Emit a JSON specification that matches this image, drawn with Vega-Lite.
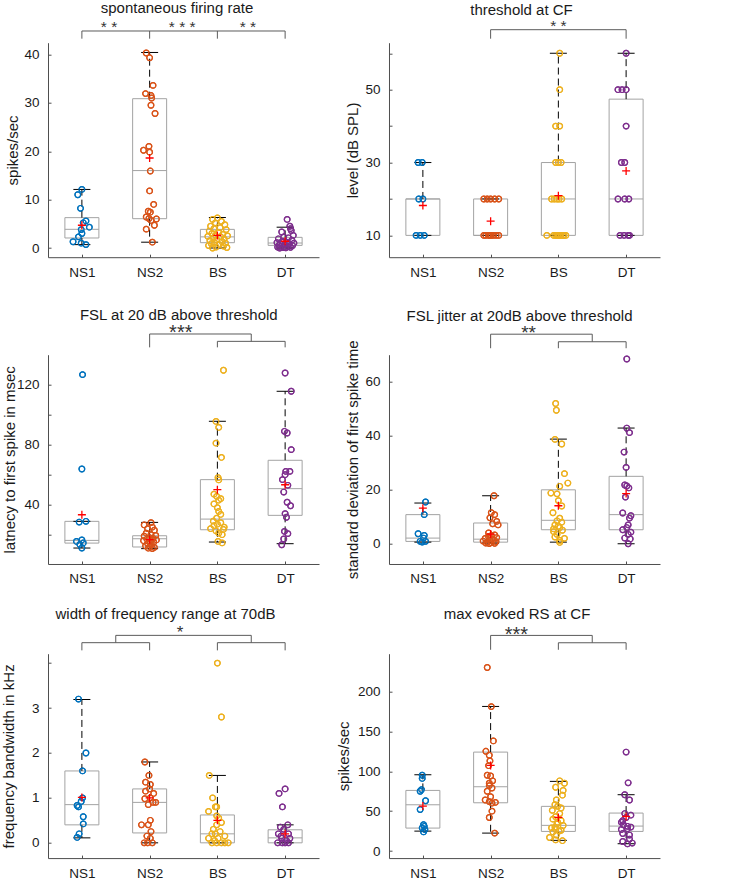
{
"$schema":"https://vega.github.io/schema/vega-lite/v6.json",
"padding":{"left":1.0,"top":0.7,"right":4,"bottom":0},
"config":{"view":{"stroke":null},"font":"Liberation Sans",
"axis":{"grid":false,"domainColor":"#4d4d4d","domainWidth":1,"tickColor":"#4d4d4d","tickSize":-3,"tickWidth":1,"labelFont":"Liberation Sans","labelFontSize":13.5,"labelColor":"#1a1a1a","labelFlush":false,"labelOverlap":false,"labelBound":false,"titleFont":"Liberation Sans","titleFontSize":15,"titleFontWeight":"normal","titleColor":"#1a1a1a"},
"axisX":{"labelPadding":11},
"axisY":{"labelPadding":12,"titleBaseline":"alphabetic","titleAlign":"center","titleAngle":-90},
"title":{"fontSize":15,"fontWeight":"normal","font":"Liberation Sans","color":"#1a1a1a","baseline":"alphabetic","frame":"group","anchor":"middle"}},
"datasets":{
"box":[
{"p":1,"g":1,"q1":2.07,"med":3.86,"q3":6.27,"lo":0.7,"hi":12.1,"mean":4.7},
{"p":1,"g":2,"q1":6.06,"med":16.0,"q3":30.85,"lo":1.2,"hi":40.4,"mean":18.6},
{"p":1,"g":3,"q1":1.1,"med":2.3,"q3":3.85,"lo":0.0,"hi":6.3,"mean":2.6},
{"p":1,"g":4,"q1":0.54,"med":1.03,"q3":2.2,"lo":0.0,"hi":4.3,"mean":1.4},
{"p":2,"g":1,"q1":10,"med":20,"q3":20,"lo":10,"hi":30,"mean":18.2},
{"p":2,"g":2,"q1":10,"med":10,"q3":20,"lo":10,"hi":20,"mean":13.9},
{"p":2,"g":3,"q1":10,"med":20,"q3":30,"lo":10,"hi":60,"mean":20.9},
{"p":2,"g":4,"q1":10,"med":20,"q3":47.4,"lo":10,"hi":60,"mean":27.7},
{"p":3,"g":1,"q1":14.4,"med":16.2,"q3":28.9,"lo":11.1,"hi":28.9,"mean":33.3},
{"p":3,"g":2,"q1":11.8,"med":17.3,"q3":19.3,"lo":10.7,"hi":28.2,"mean":16.7},
{"p":3,"g":3,"q1":23.3,"med":30.4,"q3":56.7,"lo":15.1,"hi":95.6,"mean":50},
{"p":3,"g":4,"q1":32.9,"med":50.7,"q3":69.6,"lo":14,"hi":115.6,"mean":53.3},
{"p":4,"g":1,"q1":0.87,"med":2.1,"q3":10.8,"lo":0.6,"hi":15.1,"mean":13.2},
{"p":4,"g":2,"q1":0.6,"med":1.7,"q3":7.7,"lo":0.25,"hi":17.8,"mean":3.6},
{"p":4,"g":3,"q1":5.2,"med":8.7,"q3":20,"lo":0.6,"hi":38.8,"mean":14.1},
{"p":4,"g":4,"q1":5.2,"med":10.8,"q3":25,"lo":0,"hi":42.9,"mean":18.6},
{"p":5,"g":1,"q1":0.4,"med":0.85,"q3":1.6,"lo":0.11,"hi":3.19,"mean":1.01},
{"p":5,"g":2,"q1":0.22,"med":0.9,"q3":1.2,"lo":0,"hi":1.8,"mean":1.0},
{"p":5,"g":3,"q1":0,"med":0.2,"q3":0.62,"lo":0,"hi":1.5,"mean":0.5},
{"p":5,"g":4,"q1":0,"med":0.11,"q3":0.29,"lo":0,"hi":0.4,"mean":0.2},
{"p":6,"g":1,"q1":28.8,"med":58,"q3":76,"lo":25,"hi":95.6,"mean":56.4},
{"p":6,"g":2,"q1":60.5,"med":80.6,"q3":124,"lo":22.5,"hi":181.2,"mean":107.3},
{"p":6,"g":3,"q1":24.6,"med":32.2,"q3":56,"lo":13.4,"hi":87.3,"mean":42.2},
{"p":6,"g":4,"q1":24.6,"med":31.3,"q3":47.6,"lo":9.2,"hi":70.6,"mean":43.4}
],
"br":[
{"p":1,"x1":1,"x2":4,"y1":44.84,"y2":44.84},{"p":1,"x1":1,"x2":1,"y1":43.25,"y2":44.84},{"p":1,"x1":2,"x2":2,"y1":43.25,"y2":44.84},{"p":1,"x1":3,"x2":3,"y1":43.25,"y2":44.84},{"p":1,"x1":4,"x2":4,"y1":43.25,"y2":44.84},
{"p":2,"x1":2,"x2":4,"y1":66.47,"y2":66.47},{"p":2,"x1":2,"x2":2,"y1":64.0,"y2":66.47},{"p":2,"x1":4,"x2":4,"y1":64.0,"y2":66.47},
{"p":3,"x1":2,"x2":3.5,"y1":153.8,"y2":153.8},{"p":3,"x1":2,"x2":2,"y1":144.9,"y2":153.8},{"p":3,"x1":3.5,"x2":3.5,"y1":148.9,"y2":153.8},{"p":3,"x1":3,"x2":4,"y1":148.9,"y2":148.9},{"p":3,"x1":3,"x2":3,"y1":144.9,"y2":148.9},{"p":3,"x1":4,"x2":4,"y1":144.9,"y2":148.9},
{"p":4,"x1":2,"x2":3.5,"y1":77.7,"y2":77.7},{"p":4,"x1":2,"x2":2,"y1":72.5,"y2":77.7},{"p":4,"x1":3.5,"x2":3.5,"y1":74.9,"y2":77.7},{"p":4,"x1":3,"x2":4,"y1":74.9,"y2":74.9},{"p":4,"x1":3,"x2":3,"y1":72.5,"y2":74.9},{"p":4,"x1":4,"x2":4,"y1":72.5,"y2":74.9},
{"p":5,"x1":1.5,"x2":3.5,"y1":4.618,"y2":4.618},{"p":5,"x1":1.5,"x2":1.5,"y1":4.455,"y2":4.618},{"p":5,"x1":3.5,"x2":3.5,"y1":4.455,"y2":4.618},{"p":5,"x1":1,"x2":2,"y1":4.455,"y2":4.455},{"p":5,"x1":3,"x2":4,"y1":4.455,"y2":4.455},{"p":5,"x1":1,"x2":1,"y1":4.284,"y2":4.455},{"p":5,"x1":2,"x2":2,"y1":4.284,"y2":4.455},{"p":5,"x1":3,"x2":3,"y1":4.284,"y2":4.455},{"p":5,"x1":4,"x2":4,"y1":4.284,"y2":4.455},
{"p":6,"x1":2,"x2":3.5,"y1":270.2,"y2":270.2},{"p":6,"x1":2,"x2":2,"y1":252.2,"y2":270.2},{"p":6,"x1":3.5,"x2":3.5,"y1":261,"y2":270.2},{"p":6,"x1":3,"x2":4,"y1":261,"y2":261},{"p":6,"x1":3,"x2":3,"y1":252.2,"y2":261},{"p":6,"x1":4,"x2":4,"y1":252.2,"y2":261}
],
"st":[
{"p":1,"x":1.4,"y":46.35,"t":"* *"},{"p":1,"x":2.48,"y":46.35,"t":"* * *"},{"p":1,"x":3.45,"y":46.35,"t":"* *"},
{"p":2,"x":3.0,"y":68.58,"t":"* *"},
{"p":3,"x":2.46,"y":158.2,"t":"***"},
{"p":4,"x":2.56,"y":80.1,"t":"**"},
{"p":5,"x":2.45,"y":4.767,"t":"*"},
{"p":6,"x":2.38,"y":278.1,"t":"***"}
],
"pts":[
{"p":1,"c":"NS1","x":1.0,"v":12.1},{"p":1,"c":"NS1","x":0.94,"v":11.0},{"p":1,"c":"NS1","x":0.98,"v":8.2},{"p":1,"c":"NS1","x":1.06,"v":5.6},{"p":1,"c":"NS1","x":1.02,"v":5.2},{"p":1,"c":"NS1","x":1.11,"v":4.3},{"p":1,"c":"NS1","x":0.99,"v":3.8},{"p":1,"c":"NS1","x":1.0,"v":3.0},{"p":1,"c":"NS1","x":0.95,"v":2.3},{"p":1,"c":"NS1","x":0.87,"v":1.3},{"p":1,"c":"NS1","x":0.99,"v":1.0},{"p":1,"c":"NS1","x":1.06,"v":0.7},
{"p":1,"c":"NS2","x":1.95,"v":40.3},{"p":1,"c":"NS2","x":2.0,"v":39.3},{"p":1,"c":"NS2","x":2.05,"v":33.6},{"p":1,"c":"NS2","x":1.94,"v":31.9},{"p":1,"c":"NS2","x":2.02,"v":31.5},{"p":1,"c":"NS2","x":2.03,"v":31.0},{"p":1,"c":"NS2","x":2.02,"v":29.5},{"p":1,"c":"NS2","x":2.08,"v":27.8},{"p":1,"c":"NS2","x":1.99,"v":21.0},{"p":1,"c":"NS2","x":1.91,"v":20.2},{"p":1,"c":"NS2","x":2.0,"v":19.8},{"p":1,"c":"NS2","x":2.01,"v":15.9},{"p":1,"c":"NS2","x":2.0,"v":11.8},{"p":1,"c":"NS2","x":2.06,"v":9.0},{"p":1,"c":"NS2","x":1.98,"v":7.6},{"p":1,"c":"NS2","x":2.01,"v":7.4},{"p":1,"c":"NS2","x":1.95,"v":6.4},{"p":1,"c":"NS2","x":1.99,"v":6.1},{"p":1,"c":"NS2","x":2.1,"v":6.0},{"p":1,"c":"NS2","x":2.02,"v":5.7},{"p":1,"c":"NS2","x":2.07,"v":4.7},{"p":1,"c":"NS2","x":1.95,"v":3.9},{"p":1,"c":"NS2","x":2.04,"v":1.2},
{"p":1,"c":"BS","x":3.0,"v":6.2},{"p":1,"c":"BS","x":2.93,"v":5.9},{"p":1,"c":"BS","x":3.06,"v":5.5},{"p":1,"c":"BS","x":2.97,"v":5.2},{"p":1,"c":"BS","x":3.11,"v":4.8},{"p":1,"c":"BS","x":2.9,"v":4.5},{"p":1,"c":"BS","x":3.04,"v":4.2},{"p":1,"c":"BS","x":2.95,"v":4.0},{"p":1,"c":"BS","x":3.13,"v":3.8},{"p":1,"c":"BS","x":2.88,"v":3.5},{"p":1,"c":"BS","x":3.02,"v":3.2},{"p":1,"c":"BS","x":2.92,"v":3.0},{"p":1,"c":"BS","x":3.08,"v":2.8},{"p":1,"c":"BS","x":2.97,"v":2.6},{"p":1,"c":"BS","x":3.15,"v":2.5},{"p":1,"c":"BS","x":2.86,"v":2.4},{"p":1,"c":"BS","x":3.05,"v":2.3},{"p":1,"c":"BS","x":2.94,"v":2.1},{"p":1,"c":"BS","x":3.1,"v":1.9},{"p":1,"c":"BS","x":2.99,"v":1.7},{"p":1,"c":"BS","x":2.89,"v":1.5},{"p":1,"c":"BS","x":3.07,"v":1.3},{"p":1,"c":"BS","x":2.96,"v":1.1},{"p":1,"c":"BS","x":3.12,"v":1.0},{"p":1,"c":"BS","x":2.91,"v":0.9},{"p":1,"c":"BS","x":3.03,"v":0.7},{"p":1,"c":"BS","x":2.87,"v":0.5},{"p":1,"c":"BS","x":3.09,"v":0.4},{"p":1,"c":"BS","x":2.98,"v":0.2},{"p":1,"c":"BS","x":3.14,"v":0.1},{"p":1,"c":"BS","x":2.93,"v":0.0},
{"p":1,"c":"DT","x":4.03,"v":5.9},{"p":1,"c":"DT","x":4.07,"v":4.5},{"p":1,"c":"DT","x":4.08,"v":4.0},{"p":1,"c":"DT","x":4.09,"v":3.6},{"p":1,"c":"DT","x":3.95,"v":3.3},{"p":1,"c":"DT","x":4.12,"v":2.6},{"p":1,"c":"DT","x":3.98,"v":2.3},{"p":1,"c":"DT","x":4.05,"v":2.1},{"p":1,"c":"DT","x":3.9,"v":1.9},{"p":1,"c":"DT","x":4.1,"v":1.6},{"p":1,"c":"DT","x":3.96,"v":1.4},{"p":1,"c":"DT","x":4.02,"v":1.2},{"p":1,"c":"DT","x":3.88,"v":1.1},{"p":1,"c":"DT","x":4.13,"v":1.0},{"p":1,"c":"DT","x":3.93,"v":0.9},{"p":1,"c":"DT","x":4.06,"v":0.8},{"p":1,"c":"DT","x":3.99,"v":0.7},{"p":1,"c":"DT","x":3.91,"v":0.6},{"p":1,"c":"DT","x":4.11,"v":0.5},{"p":1,"c":"DT","x":3.95,"v":0.4},{"p":1,"c":"DT","x":4.04,"v":0.3},{"p":1,"c":"DT","x":3.89,"v":0.2},{"p":1,"c":"DT","x":4.08,"v":0.15},{"p":1,"c":"DT","x":3.97,"v":0.1},{"p":1,"c":"DT","x":4.01,"v":0.05},{"p":1,"c":"DT","x":3.92,"v":0.0},
{"p":2,"c":"NS1","x":0.93,"v":30},{"p":2,"c":"NS1","x":0.99,"v":30},{"p":2,"c":"NS1","x":0.94,"v":20},{"p":2,"c":"NS1","x":1.0,"v":20},{"p":2,"c":"NS1","x":0.9,"v":10},{"p":2,"c":"NS1","x":0.96,"v":10},{"p":2,"c":"NS1","x":1.02,"v":10},
{"p":2,"c":"NS2","x":1.9,"v":20},{"p":2,"c":"NS2","x":1.95,"v":20},{"p":2,"c":"NS2","x":2.0,"v":20},{"p":2,"c":"NS2","x":2.06,"v":20},{"p":2,"c":"NS2","x":2.12,"v":20},{"p":2,"c":"NS2","x":1.9,"v":10},{"p":2,"c":"NS2","x":1.93,"v":10},{"p":2,"c":"NS2","x":1.97,"v":10},{"p":2,"c":"NS2","x":2.01,"v":10},{"p":2,"c":"NS2","x":2.04,"v":10},{"p":2,"c":"NS2","x":2.08,"v":10},{"p":2,"c":"NS2","x":2.12,"v":10},{"p":2,"c":"NS2","x":1.99,"v":10},
{"p":2,"c":"BS","x":3.02,"v":60},{"p":2,"c":"BS","x":3.02,"v":50},{"p":2,"c":"BS","x":2.96,"v":40},{"p":2,"c":"BS","x":3.02,"v":40},{"p":2,"c":"BS","x":2.96,"v":30},{"p":2,"c":"BS","x":3.0,"v":30},{"p":2,"c":"BS","x":3.04,"v":30},{"p":2,"c":"BS","x":2.9,"v":20},{"p":2,"c":"BS","x":2.94,"v":20},{"p":2,"c":"BS","x":2.98,"v":20},{"p":2,"c":"BS","x":3.01,"v":20},{"p":2,"c":"BS","x":3.05,"v":20},{"p":2,"c":"BS","x":2.83,"v":10},{"p":2,"c":"BS","x":2.93,"v":10},{"p":2,"c":"BS","x":2.96,"v":10},{"p":2,"c":"BS","x":3.0,"v":10},{"p":2,"c":"BS","x":3.04,"v":10},{"p":2,"c":"BS","x":3.07,"v":10},{"p":2,"c":"BS","x":3.11,"v":10},{"p":2,"c":"BS","x":2.98,"v":10},{"p":2,"c":"BS","x":3.02,"v":10},{"p":2,"c":"BS","x":3.08,"v":10},
{"p":2,"c":"DT","x":4.0,"v":60},{"p":2,"c":"DT","x":3.88,"v":50},{"p":2,"c":"DT","x":3.94,"v":50},{"p":2,"c":"DT","x":4.0,"v":50},{"p":2,"c":"DT","x":4.0,"v":40},{"p":2,"c":"DT","x":3.93,"v":30},{"p":2,"c":"DT","x":3.98,"v":30},{"p":2,"c":"DT","x":3.88,"v":20},{"p":2,"c":"DT","x":3.98,"v":20},{"p":2,"c":"DT","x":4.04,"v":20},{"p":2,"c":"DT","x":3.91,"v":10},{"p":2,"c":"DT","x":3.97,"v":10},{"p":2,"c":"DT","x":4.03,"v":10},{"p":2,"c":"DT","x":4.05,"v":10},
{"p":3,"c":"NS1","x":1.01,"v":126.7},{"p":3,"c":"NS1","x":1.0,"v":63.8},{"p":3,"c":"NS1","x":1.06,"v":28.9},{"p":3,"c":"NS1","x":0.96,"v":28.4},{"p":3,"c":"NS1","x":1.0,"v":16.5},{"p":3,"c":"NS1","x":0.92,"v":15.5},{"p":3,"c":"NS1","x":1.02,"v":14.5},{"p":3,"c":"NS1","x":0.97,"v":13.5},{"p":3,"c":"NS1","x":1.0,"v":11.1},
{"p":3,"c":"NS2","x":2.02,"v":28},{"p":3,"c":"NS2","x":1.92,"v":26.5},{"p":3,"c":"NS2","x":2.04,"v":25},{"p":3,"c":"NS2","x":1.97,"v":24},{"p":3,"c":"NS2","x":2.07,"v":23},{"p":3,"c":"NS2","x":1.95,"v":21},{"p":3,"c":"NS2","x":2.02,"v":20},{"p":3,"c":"NS2","x":2.09,"v":19.5},{"p":3,"c":"NS2","x":1.92,"v":19},{"p":3,"c":"NS2","x":2.0,"v":18},{"p":3,"c":"NS2","x":2.05,"v":17.5},{"p":3,"c":"NS2","x":1.96,"v":17},{"p":3,"c":"NS2","x":2.1,"v":16.5},{"p":3,"c":"NS2","x":1.91,"v":16},{"p":3,"c":"NS2","x":2.01,"v":15.5},{"p":3,"c":"NS2","x":2.06,"v":15},{"p":3,"c":"NS2","x":1.97,"v":14},{"p":3,"c":"NS2","x":2.03,"v":13},{"p":3,"c":"NS2","x":1.94,"v":12.5},{"p":3,"c":"NS2","x":2.0,"v":12},{"p":3,"c":"NS2","x":2.07,"v":11.5},{"p":3,"c":"NS2","x":1.98,"v":11},{"p":3,"c":"NS2","x":2.04,"v":10.8},
{"p":3,"c":"BS","x":3.09,"v":129.6},{"p":3,"c":"BS","x":2.98,"v":95.5},{"p":3,"c":"BS","x":3.02,"v":91.5},{"p":3,"c":"BS","x":2.98,"v":81},{"p":3,"c":"BS","x":3.06,"v":71.5},{"p":3,"c":"BS","x":3.01,"v":58},{"p":3,"c":"BS","x":3.02,"v":56.5},{"p":3,"c":"BS","x":2.95,"v":47},{"p":3,"c":"BS","x":2.99,"v":45.5},{"p":3,"c":"BS","x":3.05,"v":44},{"p":3,"c":"BS","x":3.02,"v":43},{"p":3,"c":"BS","x":2.95,"v":40.5},{"p":3,"c":"BS","x":3.0,"v":38},{"p":3,"c":"BS","x":3.02,"v":35.5},{"p":3,"c":"BS","x":3.05,"v":33.5},{"p":3,"c":"BS","x":2.99,"v":31},{"p":3,"c":"BS","x":2.94,"v":29},{"p":3,"c":"BS","x":3.05,"v":28},{"p":3,"c":"BS","x":3.0,"v":27},{"p":3,"c":"BS","x":2.95,"v":26},{"p":3,"c":"BS","x":3.1,"v":25},{"p":3,"c":"BS","x":2.9,"v":24},{"p":3,"c":"BS","x":3.09,"v":23.5},{"p":3,"c":"BS","x":2.98,"v":22.5},{"p":3,"c":"BS","x":3.02,"v":21},{"p":3,"c":"BS","x":3.07,"v":20},{"p":3,"c":"BS","x":3.01,"v":15.5},{"p":3,"c":"BS","x":3.07,"v":14.5},
{"p":3,"c":"DT","x":4.0,"v":127.8},{"p":3,"c":"DT","x":4.09,"v":115.6},{"p":3,"c":"DT","x":3.99,"v":88.9},{"p":3,"c":"DT","x":4.03,"v":87.8},{"p":3,"c":"DT","x":4.09,"v":76.7},{"p":3,"c":"DT","x":4.01,"v":62.2},{"p":3,"c":"DT","x":4.07,"v":62.2},{"p":3,"c":"DT","x":4.0,"v":60},{"p":3,"c":"DT","x":3.96,"v":56.7},{"p":3,"c":"DT","x":4.04,"v":52.9},{"p":3,"c":"DT","x":3.98,"v":48.4},{"p":3,"c":"DT","x":4.03,"v":41.6},{"p":3,"c":"DT","x":4.08,"v":39.3},{"p":3,"c":"DT","x":4.0,"v":34},{"p":3,"c":"DT","x":4.02,"v":31.6},{"p":3,"c":"DT","x":3.99,"v":22.2},{"p":3,"c":"DT","x":4.04,"v":20.7},{"p":3,"c":"DT","x":3.98,"v":17.1},{"p":3,"c":"DT","x":3.95,"v":13.3},
{"p":4,"c":"NS1","x":1.04,"v":15.5},{"p":4,"c":"NS1","x":1.02,"v":10.8},{"p":4,"c":"NS1","x":0.93,"v":3.7},{"p":4,"c":"NS1","x":1.02,"v":3.1},{"p":4,"c":"NS1","x":1.01,"v":2.1},{"p":4,"c":"NS1","x":0.96,"v":0.9},{"p":4,"c":"NS1","x":1.04,"v":0.9},{"p":4,"c":"NS1","x":0.99,"v":0.6},
{"p":4,"c":"NS2","x":2.05,"v":17.8},{"p":4,"c":"NS2","x":2.01,"v":11.5},{"p":4,"c":"NS2","x":2.06,"v":10.8},{"p":4,"c":"NS2","x":1.99,"v":9.6},{"p":4,"c":"NS2","x":2.09,"v":8.3},{"p":4,"c":"NS2","x":2.03,"v":7.4},{"p":4,"c":"NS2","x":2.11,"v":7.0},{"p":4,"c":"NS2","x":1.97,"v":4.0},{"p":4,"c":"NS2","x":2.06,"v":3.3},{"p":4,"c":"NS2","x":2.01,"v":3.0},{"p":4,"c":"NS2","x":1.97,"v":2.7},{"p":4,"c":"NS2","x":2.09,"v":2.3},{"p":4,"c":"NS2","x":1.92,"v":2.0},{"p":4,"c":"NS2","x":2.04,"v":1.5},{"p":4,"c":"NS2","x":1.99,"v":1.2},{"p":4,"c":"NS2","x":1.89,"v":1.0},{"p":4,"c":"NS2","x":2.08,"v":0.8},{"p":4,"c":"NS2","x":1.95,"v":0.6},{"p":4,"c":"NS2","x":2.01,"v":0.4},{"p":4,"c":"NS2","x":1.93,"v":0.3},{"p":4,"c":"NS2","x":2.06,"v":0.2},{"p":4,"c":"NS2","x":1.98,"v":0.1},
{"p":4,"c":"BS","x":2.96,"v":52},{"p":4,"c":"BS","x":2.97,"v":49.5},{"p":4,"c":"BS","x":2.95,"v":38.7},{"p":4,"c":"BS","x":3.05,"v":37},{"p":4,"c":"BS","x":3.09,"v":26},{"p":4,"c":"BS","x":3.14,"v":22.5},{"p":4,"c":"BS","x":3.02,"v":21.3},{"p":4,"c":"BS","x":2.89,"v":18.8},{"p":4,"c":"BS","x":2.98,"v":18.5},{"p":4,"c":"BS","x":3.0,"v":16},{"p":4,"c":"BS","x":3.05,"v":14},{"p":4,"c":"BS","x":2.92,"v":11.5},{"p":4,"c":"BS","x":3.02,"v":9.5},{"p":4,"c":"BS","x":2.98,"v":8.5},{"p":4,"c":"BS","x":3.05,"v":8},{"p":4,"c":"BS","x":2.95,"v":7},{"p":4,"c":"BS","x":3.0,"v":6.5},{"p":4,"c":"BS","x":3.02,"v":6},{"p":4,"c":"BS","x":2.93,"v":5.5},{"p":4,"c":"BS","x":3.06,"v":5},{"p":4,"c":"BS","x":2.93,"v":4.5},{"p":4,"c":"BS","x":2.98,"v":3.5},{"p":4,"c":"BS","x":2.95,"v":2.5},{"p":4,"c":"BS","x":3.09,"v":2},{"p":4,"c":"BS","x":3.02,"v":1.2},{"p":4,"c":"BS","x":3.02,"v":0.5},
{"p":4,"c":"DT","x":4.01,"v":68.5},{"p":4,"c":"DT","x":4.01,"v":42.9},{"p":4,"c":"DT","x":4.05,"v":41.2},{"p":4,"c":"DT","x":3.97,"v":34},{"p":4,"c":"DT","x":4.0,"v":28.3},{"p":4,"c":"DT","x":3.98,"v":21.8},{"p":4,"c":"DT","x":4.01,"v":21.4},{"p":4,"c":"DT","x":4.04,"v":20.7},{"p":4,"c":"DT","x":3.99,"v":17.3},{"p":4,"c":"DT","x":3.95,"v":11.4},{"p":4,"c":"DT","x":4.07,"v":10.4},{"p":4,"c":"DT","x":4.05,"v":9.5},{"p":4,"c":"DT","x":4.03,"v":7.0},{"p":4,"c":"DT","x":4.01,"v":6.0},{"p":4,"c":"DT","x":3.95,"v":5.2},{"p":4,"c":"DT","x":4.07,"v":4.3},{"p":4,"c":"DT","x":4.03,"v":3.5},{"p":4,"c":"DT","x":3.98,"v":2.1},{"p":4,"c":"DT","x":4.06,"v":1.8},{"p":4,"c":"DT","x":4.03,"v":0.0},
{"p":5,"c":"NS1","x":0.95,"v":3.2},{"p":5,"c":"NS1","x":1.06,"v":2.0},{"p":5,"c":"NS1","x":1.01,"v":1.6},{"p":5,"c":"NS1","x":1.01,"v":1.0},{"p":5,"c":"NS1","x":0.99,"v":0.92},{"p":5,"c":"NS1","x":0.93,"v":0.83},{"p":5,"c":"NS1","x":0.95,"v":0.8},{"p":5,"c":"NS1","x":1.02,"v":0.58},{"p":5,"c":"NS1","x":1.02,"v":0.42},{"p":5,"c":"NS1","x":0.96,"v":0.2},{"p":5,"c":"NS1","x":0.93,"v":0.12},
{"p":5,"c":"NS2","x":1.93,"v":1.8},{"p":5,"c":"NS2","x":1.99,"v":1.5},{"p":5,"c":"NS2","x":1.94,"v":1.35},{"p":5,"c":"NS2","x":2.01,"v":1.3},{"p":5,"c":"NS2","x":2.0,"v":1.2},{"p":5,"c":"NS2","x":1.94,"v":1.15},{"p":5,"c":"NS2","x":2.06,"v":1.1},{"p":5,"c":"NS2","x":2.01,"v":1.0},{"p":5,"c":"NS2","x":1.93,"v":0.98},{"p":5,"c":"NS2","x":2.05,"v":0.9},{"p":5,"c":"NS2","x":2.09,"v":0.9},{"p":5,"c":"NS2","x":1.98,"v":0.85},{"p":5,"c":"NS2","x":2.01,"v":0.5},{"p":5,"c":"NS2","x":1.88,"v":0.4},{"p":5,"c":"NS2","x":1.98,"v":0.4},{"p":5,"c":"NS2","x":2.02,"v":0.25},{"p":5,"c":"NS2","x":1.96,"v":0.15},{"p":5,"c":"NS2","x":2.01,"v":0.1},{"p":5,"c":"NS2","x":1.92,"v":0.0},{"p":5,"c":"NS2","x":1.97,"v":0.0},{"p":5,"c":"NS2","x":2.04,"v":0.0},
{"p":5,"c":"BS","x":3.0,"v":4.0},{"p":5,"c":"BS","x":3.06,"v":2.8},{"p":5,"c":"BS","x":2.88,"v":1.5},{"p":5,"c":"BS","x":2.93,"v":1.0},{"p":5,"c":"BS","x":2.97,"v":0.8},{"p":5,"c":"BS","x":2.99,"v":0.8},{"p":5,"c":"BS","x":2.87,"v":0.7},{"p":5,"c":"BS","x":2.99,"v":0.6},{"p":5,"c":"BS","x":3.02,"v":0.55},{"p":5,"c":"BS","x":3.06,"v":0.45},{"p":5,"c":"BS","x":2.99,"v":0.4},{"p":5,"c":"BS","x":2.94,"v":0.3},{"p":5,"c":"BS","x":3.04,"v":0.25},{"p":5,"c":"BS","x":2.92,"v":0.2},{"p":5,"c":"BS","x":2.97,"v":0.2},{"p":5,"c":"BS","x":3.11,"v":0.15},{"p":5,"c":"BS","x":2.87,"v":0.1},{"p":5,"c":"BS","x":3.01,"v":0.1},{"p":5,"c":"BS","x":2.96,"v":0.05},{"p":5,"c":"BS","x":3.06,"v":0.0},{"p":5,"c":"BS","x":3.16,"v":0.0},{"p":5,"c":"BS","x":2.92,"v":0.0},{"p":5,"c":"BS","x":2.99,"v":0.0},{"p":5,"c":"BS","x":3.11,"v":0.0},
{"p":5,"c":"DT","x":4.0,"v":1.2},{"p":5,"c":"DT","x":3.91,"v":1.1},{"p":5,"c":"DT","x":3.96,"v":0.8},{"p":5,"c":"DT","x":4.04,"v":0.4},{"p":5,"c":"DT","x":3.93,"v":0.35},{"p":5,"c":"DT","x":3.98,"v":0.3},{"p":5,"c":"DT","x":4.05,"v":0.2},{"p":5,"c":"DT","x":3.9,"v":0.2},{"p":5,"c":"DT","x":3.94,"v":0.15},{"p":5,"c":"DT","x":3.95,"v":0.1},{"p":5,"c":"DT","x":4.07,"v":0.1},{"p":5,"c":"DT","x":4.02,"v":0.05},{"p":5,"c":"DT","x":3.89,"v":0.0},{"p":5,"c":"DT","x":3.96,"v":0.0},{"p":5,"c":"DT","x":4.0,"v":0.0},{"p":5,"c":"DT","x":4.05,"v":0.0},
{"p":6,"c":"NS1","x":0.99,"v":95},{"p":6,"c":"NS1","x":0.99,"v":91},{"p":6,"c":"NS1","x":0.98,"v":77},{"p":6,"c":"NS1","x":0.96,"v":75},{"p":6,"c":"NS1","x":1.04,"v":63},{"p":6,"c":"NS1","x":0.96,"v":52},{"p":6,"c":"NS1","x":1.01,"v":33},{"p":6,"c":"NS1","x":1.02,"v":31},{"p":6,"c":"NS1","x":0.99,"v":29},{"p":6,"c":"NS1","x":1.03,"v":27},{"p":6,"c":"NS1","x":1.01,"v":24},
{"p":6,"c":"NS2","x":1.95,"v":230},{"p":6,"c":"NS2","x":2.01,"v":181},{"p":6,"c":"NS2","x":2.04,"v":138},{"p":6,"c":"NS2","x":1.93,"v":125},{"p":6,"c":"NS2","x":1.98,"v":120},{"p":6,"c":"NS2","x":1.99,"v":113},{"p":6,"c":"NS2","x":1.97,"v":107},{"p":6,"c":"NS2","x":1.95,"v":95},{"p":6,"c":"NS2","x":2.0,"v":94},{"p":6,"c":"NS2","x":2.03,"v":88},{"p":6,"c":"NS2","x":1.98,"v":85},{"p":6,"c":"NS2","x":1.98,"v":82},{"p":6,"c":"NS2","x":2.02,"v":79},{"p":6,"c":"NS2","x":1.95,"v":75},{"p":6,"c":"NS2","x":2.0,"v":68},{"p":6,"c":"NS2","x":1.92,"v":64},{"p":6,"c":"NS2","x":1.98,"v":62},{"p":6,"c":"NS2","x":2.07,"v":61},{"p":6,"c":"NS2","x":2.02,"v":60},{"p":6,"c":"NS2","x":2.02,"v":50},{"p":6,"c":"NS2","x":1.98,"v":42},{"p":6,"c":"NS2","x":2.06,"v":22.5},
{"p":6,"c":"BS","x":3.02,"v":88},{"p":6,"c":"BS","x":3.09,"v":85},{"p":6,"c":"BS","x":2.96,"v":80},{"p":6,"c":"BS","x":3.07,"v":76},{"p":6,"c":"BS","x":3.06,"v":70},{"p":6,"c":"BS","x":2.97,"v":64},{"p":6,"c":"BS","x":2.95,"v":58},{"p":6,"c":"BS","x":2.99,"v":56},{"p":6,"c":"BS","x":3.04,"v":54},{"p":6,"c":"BS","x":2.91,"v":51},{"p":6,"c":"BS","x":3.02,"v":47},{"p":6,"c":"BS","x":2.96,"v":43},{"p":6,"c":"BS","x":2.92,"v":40},{"p":6,"c":"BS","x":3.04,"v":38},{"p":6,"c":"BS","x":2.99,"v":36},{"p":6,"c":"BS","x":2.98,"v":34},{"p":6,"c":"BS","x":3.07,"v":32},{"p":6,"c":"BS","x":2.95,"v":30},{"p":6,"c":"BS","x":2.9,"v":29},{"p":6,"c":"BS","x":2.96,"v":27},{"p":6,"c":"BS","x":3.04,"v":26},{"p":6,"c":"BS","x":3.01,"v":25},{"p":6,"c":"BS","x":2.92,"v":24},{"p":6,"c":"BS","x":2.97,"v":20},{"p":6,"c":"BS","x":2.87,"v":17},{"p":6,"c":"BS","x":2.96,"v":14},{"p":6,"c":"BS","x":3.06,"v":13},
{"p":6,"c":"DT","x":4.0,"v":124},{"p":6,"c":"DT","x":4.03,"v":85.5},{"p":6,"c":"DT","x":3.98,"v":70.5},{"p":6,"c":"DT","x":4.05,"v":64},{"p":6,"c":"DT","x":3.98,"v":47},{"p":6,"c":"DT","x":4.07,"v":45},{"p":6,"c":"DT","x":4.0,"v":42},{"p":6,"c":"DT","x":3.95,"v":38},{"p":6,"c":"DT","x":3.93,"v":36},{"p":6,"c":"DT","x":3.96,"v":33},{"p":6,"c":"DT","x":4.02,"v":31},{"p":6,"c":"DT","x":4.07,"v":30},{"p":6,"c":"DT","x":4.02,"v":28},{"p":6,"c":"DT","x":3.93,"v":27},{"p":6,"c":"DT","x":3.95,"v":22},{"p":6,"c":"DT","x":4.05,"v":20},{"p":6,"c":"DT","x":4.05,"v":15},{"p":6,"c":"DT","x":3.95,"v":12},{"p":6,"c":"DT","x":4.09,"v":10},{"p":6,"c":"DT","x":4.02,"v":9}
]},
"columns":4,
"spacing":0,
"bounds":"flush",
"align":{"row":"each","column":"none"},
"resolve":{"scale":{"x":"independent","y":"independent"}},
"concat":[
{"width":2.6,"height":1,"data":{"values":[]},"mark":"point"},
{"width":271,"height":214.5,"title":{"text":"spontaneous firing rate","offset":4.6,"dx":-6.5},
"layer":[
{"data":{"name":"pts"},"transform":[{"filter":"datum.p==1"}],"mark":{"type":"point","filled":false,"size":32,"strokeWidth":1.2,"opacity":1},"encoding":{"x":{"field":"x","type":"quantitative","scale":{"domain":[0.5,4.5],"nice":false,"zero":false},"axis":{"values":[1,2,3,4],"labelExpr":"['NS1','NS2','BS','DT'][datum.value-1]","title":null}},"y":{"field":"v","type":"quantitative","scale":{"domain":[-1.9,42.42],"nice":false,"zero":false},"axis":{"values":[0,5,10,15,20,25,30,35,40],"labelExpr":"datum.value % 10 === 0 ? datum.label : ''","title":"spikes/sec","titleX":-31}},"stroke":{"field":"c","type":"nominal","scale":{"domain":["NS1","NS2","BS","DT"],"range":["#0072BD","#D95319","#EDB120","#7E2F8E"]},"legend":null}}},
{"data":{"name":"box"},"transform":[{"filter":"datum.p==1"}],"mark":{"type":"rect","xOffset":-17,"x2Offset":17,"fill":"#ffffff","fillOpacity":0,"stroke":"#a3a3a3","strokeWidth":1},"encoding":{"x":{"field":"g","type":"quantitative"},"x2":{"field":"g"},"y":{"field":"q1","type":"quantitative"},"y2":{"field":"q3"}}},
{"data":{"name":"box"},"transform":[{"filter":"datum.p==1"}],"mark":{"type":"rule","xOffset":-17,"x2Offset":17,"color":"#a3a3a3","strokeWidth":1},"encoding":{"x":{"field":"g","type":"quantitative"},"x2":{"field":"g"},"y":{"field":"med","type":"quantitative"}}},
{"data":{"name":"box"},"transform":[{"filter":"datum.p==1"}],"mark":{"type":"rule","color":"#000000","strokeWidth":1,"strokeDash":[7,4]},"encoding":{"x":{"field":"g","type":"quantitative"},"y":{"field":"q3","type":"quantitative"},"y2":{"field":"hi"}}},
{"data":{"name":"box"},"transform":[{"filter":"datum.p==1"}],"mark":{"type":"rule","color":"#000000","strokeWidth":1,"strokeDash":[7,4]},"encoding":{"x":{"field":"g","type":"quantitative"},"y":{"field":"q1","type":"quantitative"},"y2":{"field":"lo"}}},
{"data":{"name":"box"},"transform":[{"filter":"datum.p==1"}],"mark":{"type":"rule","xOffset":-8.5,"x2Offset":8.5,"color":"#000000","strokeWidth":1},"encoding":{"x":{"field":"g","type":"quantitative"},"x2":{"field":"g"},"y":{"field":"hi","type":"quantitative"}}},
{"data":{"name":"box"},"transform":[{"filter":"datum.p==1"}],"mark":{"type":"rule","xOffset":-8.5,"x2Offset":8.5,"color":"#000000","strokeWidth":1},"encoding":{"x":{"field":"g","type":"quantitative"},"x2":{"field":"g"},"y":{"field":"lo","type":"quantitative"}}},
{"data":{"name":"pts"},"transform":[{"filter":"datum.p==1"}],"mark":{"type":"point","filled":false,"size":32,"strokeWidth":1.2,"opacity":1},"encoding":{"x":{"field":"x","type":"quantitative"},"y":{"field":"v","type":"quantitative"},"stroke":{"field":"c","type":"nominal","legend":null}}},
{"data":{"name":"box"},"transform":[{"filter":"datum.p==1"}],"mark":{"type":"point","shape":"M-1,0L1,0M0,-1L0,1","filled":false,"stroke":"#ff0000","size":64,"strokeWidth":1.3,"opacity":1},"encoding":{"x":{"field":"g","type":"quantitative"},"y":{"field":"mean","type":"quantitative"}}},
{"data":{"name":"br"},"transform":[{"filter":"datum.p==1"}],"mark":{"type":"rule","color":"#5a5a5a","strokeWidth":1,"clip":false},"encoding":{"x":{"field":"x1","type":"quantitative"},"x2":{"field":"x2"},"y":{"field":"y1","type":"quantitative"},"y2":{"field":"y2"}}},
{"data":{"name":"st"},"transform":[{"filter":"datum.p==1"}],"mark":{"type":"text","fontSize":15.5,"dy":8.8,"font":"Liberation Sans","color":"#333333","align":"center","baseline":"alphabetic","clip":false},"encoding":{"x":{"field":"x","type":"quantitative"},"y":{"field":"y","type":"quantitative"},"text":{"field":"t"}}}
]},
{"width":68.7,"height":1,"data":{"values":[]},"mark":"point"},
{"width":271,"height":214.5,"title":{"text":"threshold at CF","offset":0.6,"dx":-3},
"layer":[
{"data":{"name":"pts"},"transform":[{"filter":"datum.p==2"}],"mark":{"type":"point","filled":false,"size":32,"strokeWidth":1.2,"opacity":1},"encoding":{"x":{"field":"x","type":"quantitative","scale":{"domain":[0.5,4.5],"nice":false,"zero":false},"axis":{"values":[1,2,3,4],"labelExpr":"['NS1','NS2','BS','DT'][datum.value-1]","title":null}},"y":{"field":"v","type":"quantitative","scale":{"domain":[4.01,62.9],"nice":false,"zero":false},"axis":{"values":[10,20,30,40,50,60],"labelExpr":"datum.value % 20 === 10 ? datum.label : ''","title":"level (dB SPL)","titleX":-31}},"stroke":{"field":"c","type":"nominal","scale":{"domain":["NS1","NS2","BS","DT"],"range":["#0072BD","#D95319","#EDB120","#7E2F8E"]},"legend":null}}},
{"data":{"name":"box"},"transform":[{"filter":"datum.p==2"}],"mark":{"type":"rect","xOffset":-17,"x2Offset":17,"fill":"#ffffff","fillOpacity":0,"stroke":"#a3a3a3","strokeWidth":1},"encoding":{"x":{"field":"g","type":"quantitative"},"x2":{"field":"g"},"y":{"field":"q1","type":"quantitative"},"y2":{"field":"q3"}}},
{"data":{"name":"box"},"transform":[{"filter":"datum.p==2"}],"mark":{"type":"rule","xOffset":-17,"x2Offset":17,"color":"#a3a3a3","strokeWidth":1},"encoding":{"x":{"field":"g","type":"quantitative"},"x2":{"field":"g"},"y":{"field":"med","type":"quantitative"}}},
{"data":{"name":"box"},"transform":[{"filter":"datum.p==2"}],"mark":{"type":"rule","color":"#000000","strokeWidth":1,"strokeDash":[7,4]},"encoding":{"x":{"field":"g","type":"quantitative"},"y":{"field":"q3","type":"quantitative"},"y2":{"field":"hi"}}},
{"data":{"name":"box"},"transform":[{"filter":"datum.p==2"}],"mark":{"type":"rule","color":"#000000","strokeWidth":1,"strokeDash":[7,4]},"encoding":{"x":{"field":"g","type":"quantitative"},"y":{"field":"q1","type":"quantitative"},"y2":{"field":"lo"}}},
{"data":{"name":"box"},"transform":[{"filter":"datum.p==2"}],"mark":{"type":"rule","xOffset":-8.5,"x2Offset":8.5,"color":"#000000","strokeWidth":1},"encoding":{"x":{"field":"g","type":"quantitative"},"x2":{"field":"g"},"y":{"field":"hi","type":"quantitative"}}},
{"data":{"name":"box"},"transform":[{"filter":"datum.p==2"}],"mark":{"type":"rule","xOffset":-8.5,"x2Offset":8.5,"color":"#000000","strokeWidth":1},"encoding":{"x":{"field":"g","type":"quantitative"},"x2":{"field":"g"},"y":{"field":"lo","type":"quantitative"}}},
{"data":{"name":"pts"},"transform":[{"filter":"datum.p==2"}],"mark":{"type":"point","filled":false,"size":32,"strokeWidth":1.2,"opacity":1},"encoding":{"x":{"field":"x","type":"quantitative"},"y":{"field":"v","type":"quantitative"},"stroke":{"field":"c","type":"nominal","legend":null}}},
{"data":{"name":"box"},"transform":[{"filter":"datum.p==2"}],"mark":{"type":"point","shape":"M-1,0L1,0M0,-1L0,1","filled":false,"stroke":"#ff0000","size":64,"strokeWidth":1.3,"opacity":1},"encoding":{"x":{"field":"g","type":"quantitative"},"y":{"field":"mean","type":"quantitative"}}},
{"data":{"name":"br"},"transform":[{"filter":"datum.p==2"}],"mark":{"type":"rule","color":"#5a5a5a","strokeWidth":1,"clip":false},"encoding":{"x":{"field":"x1","type":"quantitative"},"x2":{"field":"x2"},"y":{"field":"y1","type":"quantitative"},"y2":{"field":"y2"}}},
{"data":{"name":"st"},"transform":[{"filter":"datum.p==2"}],"mark":{"type":"text","fontSize":15.5,"dy":8.8,"font":"Liberation Sans","color":"#333333","align":"center","baseline":"alphabetic","clip":false},"encoding":{"x":{"field":"x","type":"quantitative"},"y":{"field":"y","type":"quantitative"},"text":{"field":"t"}}}
]},
{"width":1,"height":96.5,"data":{"values":[]},"mark":"point"},
{"width":1,"height":1,"data":{"values":[]},"mark":"point"},
{"width":1,"height":1,"data":{"values":[]},"mark":"point"},
{"width":1,"height":1,"data":{"values":[]},"mark":"point"},
{"width":1,"height":1,"data":{"values":[]},"mark":"point"},
{"width":271,"height":209.3,"title":{"text":"FSL at 20 dB above threshold","offset":-0.4,"dx":-4.7},
"layer":[
{"data":{"name":"pts"},"transform":[{"filter":"datum.p==3"}],"mark":{"type":"point","filled":false,"size":32,"strokeWidth":1.2,"opacity":1},"encoding":{"x":{"field":"x","type":"quantitative","scale":{"domain":[0.5,4.5],"nice":false,"zero":false},"axis":{"values":[1,2,3,4],"labelExpr":"['NS1','NS2','BS','DT'][datum.value-1]","title":null}},"y":{"field":"v","type":"quantitative","scale":{"domain":[0.47,140],"nice":false,"zero":false},"axis":{"values":[20,40,60,80,100,120],"labelExpr":"datum.value % 40 === 0 ? datum.label : ''","title":"latnecy to first spike in msec","titleX":-33.5}},"stroke":{"field":"c","type":"nominal","scale":{"domain":["NS1","NS2","BS","DT"],"range":["#0072BD","#D95319","#EDB120","#7E2F8E"]},"legend":null}}},
{"data":{"name":"box"},"transform":[{"filter":"datum.p==3"}],"mark":{"type":"rect","xOffset":-17,"x2Offset":17,"fill":"#ffffff","fillOpacity":0,"stroke":"#a3a3a3","strokeWidth":1},"encoding":{"x":{"field":"g","type":"quantitative"},"x2":{"field":"g"},"y":{"field":"q1","type":"quantitative"},"y2":{"field":"q3"}}},
{"data":{"name":"box"},"transform":[{"filter":"datum.p==3"}],"mark":{"type":"rule","xOffset":-17,"x2Offset":17,"color":"#a3a3a3","strokeWidth":1},"encoding":{"x":{"field":"g","type":"quantitative"},"x2":{"field":"g"},"y":{"field":"med","type":"quantitative"}}},
{"data":{"name":"box"},"transform":[{"filter":"datum.p==3"}],"mark":{"type":"rule","color":"#000000","strokeWidth":1,"strokeDash":[7,4]},"encoding":{"x":{"field":"g","type":"quantitative"},"y":{"field":"q3","type":"quantitative"},"y2":{"field":"hi"}}},
{"data":{"name":"box"},"transform":[{"filter":"datum.p==3"}],"mark":{"type":"rule","color":"#000000","strokeWidth":1,"strokeDash":[7,4]},"encoding":{"x":{"field":"g","type":"quantitative"},"y":{"field":"q1","type":"quantitative"},"y2":{"field":"lo"}}},
{"data":{"name":"box"},"transform":[{"filter":"datum.p==3"}],"mark":{"type":"rule","xOffset":-8.5,"x2Offset":8.5,"color":"#000000","strokeWidth":1},"encoding":{"x":{"field":"g","type":"quantitative"},"x2":{"field":"g"},"y":{"field":"hi","type":"quantitative"}}},
{"data":{"name":"box"},"transform":[{"filter":"datum.p==3"}],"mark":{"type":"rule","xOffset":-8.5,"x2Offset":8.5,"color":"#000000","strokeWidth":1},"encoding":{"x":{"field":"g","type":"quantitative"},"x2":{"field":"g"},"y":{"field":"lo","type":"quantitative"}}},
{"data":{"name":"pts"},"transform":[{"filter":"datum.p==3"}],"mark":{"type":"point","filled":false,"size":32,"strokeWidth":1.2,"opacity":1},"encoding":{"x":{"field":"x","type":"quantitative"},"y":{"field":"v","type":"quantitative"},"stroke":{"field":"c","type":"nominal","legend":null}}},
{"data":{"name":"box"},"transform":[{"filter":"datum.p==3"}],"mark":{"type":"point","shape":"M-1,0L1,0M0,-1L0,1","filled":false,"stroke":"#ff0000","size":64,"strokeWidth":1.3,"opacity":1},"encoding":{"x":{"field":"g","type":"quantitative"},"y":{"field":"mean","type":"quantitative"}}},
{"data":{"name":"br"},"transform":[{"filter":"datum.p==3"}],"mark":{"type":"rule","color":"#5a5a5a","strokeWidth":1,"clip":false},"encoding":{"x":{"field":"x1","type":"quantitative"},"x2":{"field":"x2"},"y":{"field":"y1","type":"quantitative"},"y2":{"field":"y2"}}},
{"data":{"name":"st"},"transform":[{"filter":"datum.p==3"}],"mark":{"type":"text","fontSize":20,"dy":11.4,"font":"Liberation Sans","color":"#333333","align":"center","baseline":"alphabetic","clip":false},"encoding":{"x":{"field":"x","type":"quantitative"},"y":{"field":"y","type":"quantitative"},"text":{"field":"t"}}}
]},
{"width":69.3,"height":1,"data":{"values":[]},"mark":"point"},
{"width":271,"height":209.3,"title":{"text":"FSL jitter at 20dB above threshold","offset":0,"dx":-5},
"layer":[
{"data":{"name":"pts"},"transform":[{"filter":"datum.p==4"}],"mark":{"type":"point","filled":false,"size":32,"strokeWidth":1.2,"opacity":1},"encoding":{"x":{"field":"x","type":"quantitative","scale":{"domain":[0.5,4.5],"nice":false,"zero":false},"axis":{"values":[1,2,3,4],"labelExpr":"['NS1','NS2','BS','DT'][datum.value-1]","title":null}},"y":{"field":"v","type":"quantitative","scale":{"domain":[-7.5,70.1],"nice":false,"zero":false},"axis":{"values":[0,10,20,30,40,50,60],"labelExpr":"datum.value % 20 === 0 ? datum.label : ''","title":"standard deviation of first spike time","titleX":-31.7}},"stroke":{"field":"c","type":"nominal","scale":{"domain":["NS1","NS2","BS","DT"],"range":["#0072BD","#D95319","#EDB120","#7E2F8E"]},"legend":null}}},
{"data":{"name":"box"},"transform":[{"filter":"datum.p==4"}],"mark":{"type":"rect","xOffset":-17,"x2Offset":17,"fill":"#ffffff","fillOpacity":0,"stroke":"#a3a3a3","strokeWidth":1},"encoding":{"x":{"field":"g","type":"quantitative"},"x2":{"field":"g"},"y":{"field":"q1","type":"quantitative"},"y2":{"field":"q3"}}},
{"data":{"name":"box"},"transform":[{"filter":"datum.p==4"}],"mark":{"type":"rule","xOffset":-17,"x2Offset":17,"color":"#a3a3a3","strokeWidth":1},"encoding":{"x":{"field":"g","type":"quantitative"},"x2":{"field":"g"},"y":{"field":"med","type":"quantitative"}}},
{"data":{"name":"box"},"transform":[{"filter":"datum.p==4"}],"mark":{"type":"rule","color":"#000000","strokeWidth":1,"strokeDash":[7,4]},"encoding":{"x":{"field":"g","type":"quantitative"},"y":{"field":"q3","type":"quantitative"},"y2":{"field":"hi"}}},
{"data":{"name":"box"},"transform":[{"filter":"datum.p==4"}],"mark":{"type":"rule","color":"#000000","strokeWidth":1,"strokeDash":[7,4]},"encoding":{"x":{"field":"g","type":"quantitative"},"y":{"field":"q1","type":"quantitative"},"y2":{"field":"lo"}}},
{"data":{"name":"box"},"transform":[{"filter":"datum.p==4"}],"mark":{"type":"rule","xOffset":-8.5,"x2Offset":8.5,"color":"#000000","strokeWidth":1},"encoding":{"x":{"field":"g","type":"quantitative"},"x2":{"field":"g"},"y":{"field":"hi","type":"quantitative"}}},
{"data":{"name":"box"},"transform":[{"filter":"datum.p==4"}],"mark":{"type":"rule","xOffset":-8.5,"x2Offset":8.5,"color":"#000000","strokeWidth":1},"encoding":{"x":{"field":"g","type":"quantitative"},"x2":{"field":"g"},"y":{"field":"lo","type":"quantitative"}}},
{"data":{"name":"pts"},"transform":[{"filter":"datum.p==4"}],"mark":{"type":"point","filled":false,"size":32,"strokeWidth":1.2,"opacity":1},"encoding":{"x":{"field":"x","type":"quantitative"},"y":{"field":"v","type":"quantitative"},"stroke":{"field":"c","type":"nominal","legend":null}}},
{"data":{"name":"box"},"transform":[{"filter":"datum.p==4"}],"mark":{"type":"point","shape":"M-1,0L1,0M0,-1L0,1","filled":false,"stroke":"#ff0000","size":64,"strokeWidth":1.3,"opacity":1},"encoding":{"x":{"field":"g","type":"quantitative"},"y":{"field":"mean","type":"quantitative"}}},
{"data":{"name":"br"},"transform":[{"filter":"datum.p==4"}],"mark":{"type":"rule","color":"#5a5a5a","strokeWidth":1,"clip":false},"encoding":{"x":{"field":"x1","type":"quantitative"},"x2":{"field":"x2"},"y":{"field":"y1","type":"quantitative"},"y2":{"field":"y2"}}},
{"data":{"name":"st"},"transform":[{"filter":"datum.p==4"}],"mark":{"type":"text","fontSize":19,"dy":10.8,"font":"Liberation Sans","color":"#333333","align":"center","baseline":"alphabetic","clip":false},"encoding":{"x":{"field":"x","type":"quantitative"},"y":{"field":"y","type":"quantitative"},"text":{"field":"t"}}}
]},
{"width":1,"height":89,"data":{"values":[]},"mark":"point"},
{"width":1,"height":1,"data":{"values":[]},"mark":"point"},
{"width":1,"height":1,"data":{"values":[]},"mark":"point"},
{"width":1,"height":1,"data":{"values":[]},"mark":"point"},
{"width":6.6,"height":1,"data":{"values":[]},"mark":"point"},
{"width":271,"height":204.4,"title":{"text":"width of frequency range at 70dB","offset":2.8,"dx":-18},
"layer":[
{"data":{"name":"pts"},"transform":[{"filter":"datum.p==5"}],"mark":{"type":"point","filled":false,"size":32,"strokeWidth":1.2,"opacity":1},"encoding":{"x":{"field":"x","type":"quantitative","scale":{"domain":[0.5,4.5],"nice":false,"zero":false},"axis":{"values":[1,2,3,4],"labelExpr":"['NS1','NS2','BS','DT'][datum.value-1]","title":null}},"y":{"field":"v","type":"quantitative","scale":{"domain":[-0.34,4.21],"nice":false,"zero":false},"axis":{"values":[0,1,2,3,4],"labelExpr":"datum.value < 4 ? datum.label : ''","title":"frequency bandwidth in kHz","titleX":-35}},"stroke":{"field":"c","type":"nominal","scale":{"domain":["NS1","NS2","BS","DT"],"range":["#0072BD","#D95319","#EDB120","#7E2F8E"]},"legend":null}}},
{"data":{"name":"box"},"transform":[{"filter":"datum.p==5"}],"mark":{"type":"rect","xOffset":-17,"x2Offset":17,"fill":"#ffffff","fillOpacity":0,"stroke":"#a3a3a3","strokeWidth":1},"encoding":{"x":{"field":"g","type":"quantitative"},"x2":{"field":"g"},"y":{"field":"q1","type":"quantitative"},"y2":{"field":"q3"}}},
{"data":{"name":"box"},"transform":[{"filter":"datum.p==5"}],"mark":{"type":"rule","xOffset":-17,"x2Offset":17,"color":"#a3a3a3","strokeWidth":1},"encoding":{"x":{"field":"g","type":"quantitative"},"x2":{"field":"g"},"y":{"field":"med","type":"quantitative"}}},
{"data":{"name":"box"},"transform":[{"filter":"datum.p==5"}],"mark":{"type":"rule","color":"#000000","strokeWidth":1,"strokeDash":[7,4]},"encoding":{"x":{"field":"g","type":"quantitative"},"y":{"field":"q3","type":"quantitative"},"y2":{"field":"hi"}}},
{"data":{"name":"box"},"transform":[{"filter":"datum.p==5"}],"mark":{"type":"rule","color":"#000000","strokeWidth":1,"strokeDash":[7,4]},"encoding":{"x":{"field":"g","type":"quantitative"},"y":{"field":"q1","type":"quantitative"},"y2":{"field":"lo"}}},
{"data":{"name":"box"},"transform":[{"filter":"datum.p==5"}],"mark":{"type":"rule","xOffset":-8.5,"x2Offset":8.5,"color":"#000000","strokeWidth":1},"encoding":{"x":{"field":"g","type":"quantitative"},"x2":{"field":"g"},"y":{"field":"hi","type":"quantitative"}}},
{"data":{"name":"box"},"transform":[{"filter":"datum.p==5"}],"mark":{"type":"rule","xOffset":-8.5,"x2Offset":8.5,"color":"#000000","strokeWidth":1},"encoding":{"x":{"field":"g","type":"quantitative"},"x2":{"field":"g"},"y":{"field":"lo","type":"quantitative"}}},
{"data":{"name":"pts"},"transform":[{"filter":"datum.p==5"}],"mark":{"type":"point","filled":false,"size":32,"strokeWidth":1.2,"opacity":1},"encoding":{"x":{"field":"x","type":"quantitative"},"y":{"field":"v","type":"quantitative"},"stroke":{"field":"c","type":"nominal","legend":null}}},
{"data":{"name":"box"},"transform":[{"filter":"datum.p==5"}],"mark":{"type":"point","shape":"M-1,0L1,0M0,-1L0,1","filled":false,"stroke":"#ff0000","size":64,"strokeWidth":1.3,"opacity":1},"encoding":{"x":{"field":"g","type":"quantitative"},"y":{"field":"mean","type":"quantitative"}}},
{"data":{"name":"br"},"transform":[{"filter":"datum.p==5"}],"mark":{"type":"rule","color":"#5a5a5a","strokeWidth":1,"clip":false},"encoding":{"x":{"field":"x1","type":"quantitative"},"x2":{"field":"x2"},"y":{"field":"y1","type":"quantitative"},"y2":{"field":"y2"}}},
{"data":{"name":"st"},"transform":[{"filter":"datum.p==5"}],"mark":{"type":"text","fontSize":17,"dy":9.7,"font":"Liberation Sans","color":"#333333","align":"center","baseline":"alphabetic","clip":false},"encoding":{"x":{"field":"x","type":"quantitative"},"y":{"field":"y","type":"quantitative"},"text":{"field":"t"}}}
]},
{"width":70,"height":1,"data":{"values":[]},"mark":"point"},
{"width":271,"height":204.4,"title":{"text":"max evoked RS at CF","offset":2.3,"dx":-7.5},
"layer":[
{"data":{"name":"pts"},"transform":[{"filter":"datum.p==6"}],"mark":{"type":"point","filled":false,"size":32,"strokeWidth":1.2,"opacity":1},"encoding":{"x":{"field":"x","type":"quantitative","scale":{"domain":[0.5,4.5],"nice":false,"zero":false},"axis":{"values":[1,2,3,4],"labelExpr":"['NS1','NS2','BS','DT'][datum.value-1]","title":null}},"y":{"field":"v","type":"quantitative","scale":{"domain":[-8.8,247.3],"nice":false,"zero":false},"axis":{"values":[0,50,100,150,200],"title":"spikes/sec","titleX":-40.6}},"stroke":{"field":"c","type":"nominal","scale":{"domain":["NS1","NS2","BS","DT"],"range":["#0072BD","#D95319","#EDB120","#7E2F8E"]},"legend":null}}},
{"data":{"name":"box"},"transform":[{"filter":"datum.p==6"}],"mark":{"type":"rect","xOffset":-17,"x2Offset":17,"fill":"#ffffff","fillOpacity":0,"stroke":"#a3a3a3","strokeWidth":1},"encoding":{"x":{"field":"g","type":"quantitative"},"x2":{"field":"g"},"y":{"field":"q1","type":"quantitative"},"y2":{"field":"q3"}}},
{"data":{"name":"box"},"transform":[{"filter":"datum.p==6"}],"mark":{"type":"rule","xOffset":-17,"x2Offset":17,"color":"#a3a3a3","strokeWidth":1},"encoding":{"x":{"field":"g","type":"quantitative"},"x2":{"field":"g"},"y":{"field":"med","type":"quantitative"}}},
{"data":{"name":"box"},"transform":[{"filter":"datum.p==6"}],"mark":{"type":"rule","color":"#000000","strokeWidth":1,"strokeDash":[7,4]},"encoding":{"x":{"field":"g","type":"quantitative"},"y":{"field":"q3","type":"quantitative"},"y2":{"field":"hi"}}},
{"data":{"name":"box"},"transform":[{"filter":"datum.p==6"}],"mark":{"type":"rule","color":"#000000","strokeWidth":1,"strokeDash":[7,4]},"encoding":{"x":{"field":"g","type":"quantitative"},"y":{"field":"q1","type":"quantitative"},"y2":{"field":"lo"}}},
{"data":{"name":"box"},"transform":[{"filter":"datum.p==6"}],"mark":{"type":"rule","xOffset":-8.5,"x2Offset":8.5,"color":"#000000","strokeWidth":1},"encoding":{"x":{"field":"g","type":"quantitative"},"x2":{"field":"g"},"y":{"field":"hi","type":"quantitative"}}},
{"data":{"name":"box"},"transform":[{"filter":"datum.p==6"}],"mark":{"type":"rule","xOffset":-8.5,"x2Offset":8.5,"color":"#000000","strokeWidth":1},"encoding":{"x":{"field":"g","type":"quantitative"},"x2":{"field":"g"},"y":{"field":"lo","type":"quantitative"}}},
{"data":{"name":"pts"},"transform":[{"filter":"datum.p==6"}],"mark":{"type":"point","filled":false,"size":32,"strokeWidth":1.2,"opacity":1},"encoding":{"x":{"field":"x","type":"quantitative"},"y":{"field":"v","type":"quantitative"},"stroke":{"field":"c","type":"nominal","legend":null}}},
{"data":{"name":"box"},"transform":[{"filter":"datum.p==6"}],"mark":{"type":"point","shape":"M-1,0L1,0M0,-1L0,1","filled":false,"stroke":"#ff0000","size":64,"strokeWidth":1.3,"opacity":1},"encoding":{"x":{"field":"g","type":"quantitative"},"y":{"field":"mean","type":"quantitative"}}},
{"data":{"name":"br"},"transform":[{"filter":"datum.p==6"}],"mark":{"type":"rule","color":"#5a5a5a","strokeWidth":1,"clip":false},"encoding":{"x":{"field":"x1","type":"quantitative"},"x2":{"field":"x2"},"y":{"field":"y1","type":"quantitative"},"y2":{"field":"y2"}}},
{"data":{"name":"st"},"transform":[{"filter":"datum.p==6"}],"mark":{"type":"text","fontSize":20,"dy":11.4,"font":"Liberation Sans","color":"#333333","align":"center","baseline":"alphabetic","clip":false},"encoding":{"x":{"field":"x","type":"quantitative"},"y":{"field":"y","type":"quantitative"},"text":{"field":"t"}}}
]}
]
}
